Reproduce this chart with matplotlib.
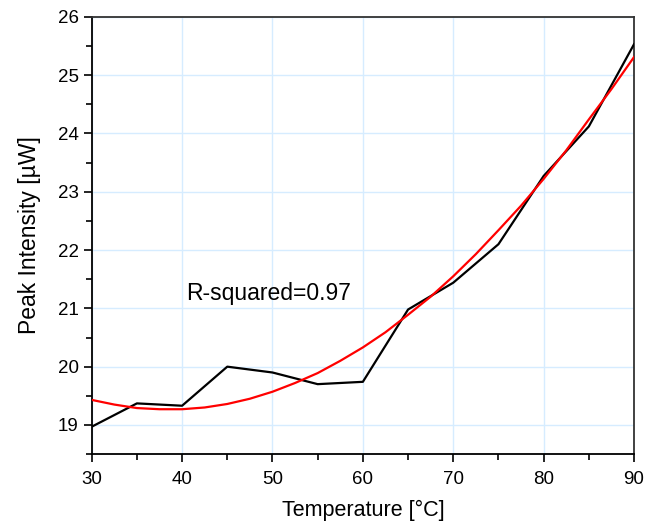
import numpy as np
import matplotlib.pyplot as plt

plt.rcParams['font.family'] = ['Liberation Sans', 'DejaVu Sans']

# measured peak intensity
temp = [30, 35, 40, 45, 50, 55, 60, 65, 70, 75, 80, 85, 90]
intensity = [18.97, 19.37, 19.33, 20.0, 19.9, 19.7, 19.74, 20.98, 21.44, 22.1, 23.27, 24.12, 25.53]

# fitted curve
fit_x = [30, 32.5, 35, 37.5, 40, 42.5, 45, 47.5, 50, 52.5, 55, 57.5, 60,
         62.5, 65, 67.5, 70, 72.5, 75, 77.5, 80, 82.5, 85, 87.5, 90]
fit_y = [19.43, 19.35, 19.29, 19.27, 19.27, 19.30, 19.36, 19.45, 19.57, 19.72, 19.89, 20.10, 20.33,
         20.59, 20.89, 21.20, 21.55, 21.93, 22.34, 22.76, 23.22, 23.71, 24.24, 24.76, 25.31]

r2_text = 'R-squared=0.97'

fig = plt.figure(figsize=(6.55, 5.25), dpi=100)
ax = fig.add_axes([0.140, 0.135, 0.828, 0.833])

ax.plot(temp, intensity, color='black', lw=1.6, zorder=3)
ax.plot(fit_x, fit_y, color='red', lw=1.6, zorder=4)

ax.set_xlim(30, 90)
ax.set_ylim(18.5, 26)
ax.set_xticks(np.arange(30, 91, 10))
ax.set_xticks(np.arange(35, 90, 10), minor=True)
ax.set_yticks(np.arange(19, 27, 1))
ax.set_yticks(np.arange(18.5, 26, 1), minor=True)
ax.grid(True, which='major', color='#d6ecff', lw=1.0, zorder=0)

ax.tick_params(which='major', length=6, width=1.2, labelsize=13.5, color='black')
ax.tick_params(which='minor', length=4, width=1.2, color='black')
ax.tick_params(axis='x', pad=6)
for s in ax.spines.values():
    s.set_linewidth(1.3)
    s.set_color('#333333')
ax.spines['left'].set_color('black')
ax.spines['bottom'].set_color('black')

ax.set_xlabel('Temperature [°C]', fontsize=15.5, labelpad=9)
ax.set_ylabel('Peak Intensity [µW]', fontsize=16.5, labelpad=12)

ax.text(40.5, 21.25, r2_text, fontsize=16.5, va='center', ha='left')

fig.savefig('out.png', dpi=100)
